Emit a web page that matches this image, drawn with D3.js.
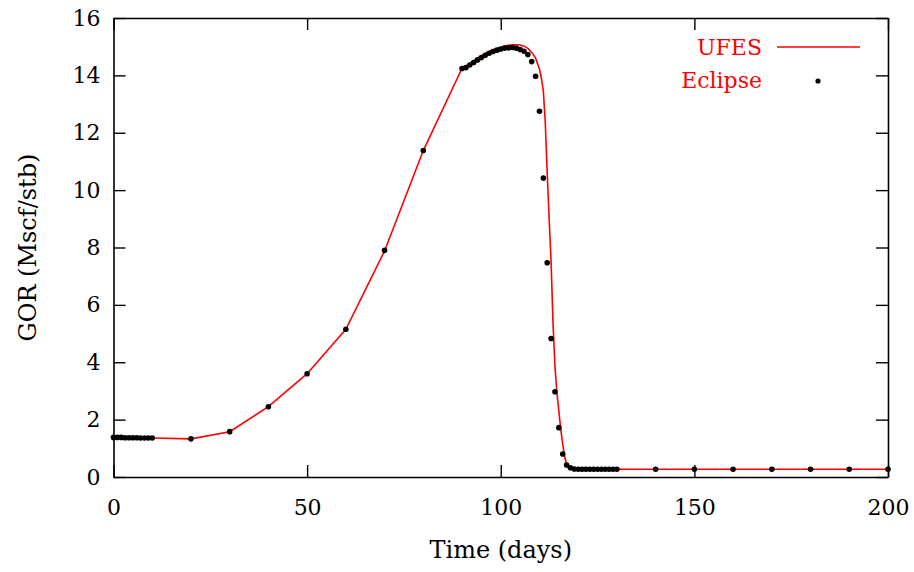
<!DOCTYPE html>
<html>
<head>
<meta charset="utf-8">
<script src="https://cdn.jsdelivr.net/npm/d3@7"></script>
<style>
  body { margin: 0; background: #fff; }
  svg text { font-family: "DejaVu Serif", "Liberation Serif", serif; }
</style>
</head>
<body>
<div id="chart"></div>
<script>
// UFES simulation (red line)
const ufesDays = [0, 10, 20, 30, 40, 50, 60, 70, 80, 90, 91, 92, 93, 94, 95, 96, 97, 98, 99, 100,
  101, 102, 103, 104, 105, 106, 107, 108, 109, 110, 110.5, 111, 111.5, 112, 112.5, 113, 113.5, 114,
  114.5, 115, 115.5, 116, 116.5, 117, 117.5, 118, 119, 120, 130, 140, 150, 160, 170, 180, 190, 200];
const ufesGor = [1.38, 1.36, 1.33, 1.58, 2.45, 3.6, 5.15, 7.88, 11.38, 14.25, 14.33, 14.42, 14.51, 14.6,
  14.68, 14.76, 14.83, 14.89, 14.94, 14.98, 15.02, 15.05, 15.07, 15.07, 15.06, 15.02, 14.94, 14.8,
  14.6, 14.22, 13.9, 13.45, 12.35, 10.6, 9.0, 7.5, 5.35, 3.85, 2.95, 2.3, 1.65, 1.15, 0.72, 0.45,
  0.32, 0.28, 0.27, 0.27, 0.27, 0.27, 0.27, 0.27, 0.27, 0.27, 0.27, 0.27];

// Eclipse reference (black dots)
const eclipseDays = [0, 1, 2, 3, 4, 5, 6, 7, 8, 9, 10, 20, 30, 40, 50, 60, 70, 80,
  90, 91, 92, 93, 94, 95, 96, 97, 98, 99, 100, 101, 102, 103, 104, 105, 106, 107, 108, 109, 110,
  111, 112, 113, 114, 115, 116, 117, 118, 119, 120, 121, 122, 123, 124, 125, 126, 127, 128, 129, 130,
  140, 150, 160, 170, 180, 190, 200];
const eclipseGor = [1.38, 1.38, 1.38, 1.37, 1.37, 1.37, 1.37, 1.36, 1.36, 1.36, 1.36, 1.33, 1.58, 2.45,
  3.6, 5.15, 7.9, 11.38,
  14.24, 14.27, 14.36, 14.45, 14.54, 14.62, 14.7, 14.77, 14.83, 14.88, 14.92, 14.95, 14.96, 14.97,
  14.95, 14.9, 14.84, 14.73, 14.48, 13.97, 12.75,
  10.42, 7.47, 4.83, 2.97, 1.72, 0.8, 0.42, 0.32, 0.28, 0.27, 0.27, 0.27, 0.27, 0.27, 0.27, 0.27,
  0.27, 0.27, 0.27, 0.27,
  0.27, 0.27, 0.27, 0.27, 0.27, 0.27, 0.27];

const xTicks = [0, 50, 100, 150, 200];
const yTicks = [0, 2, 4, 6, 8, 10, 12, 14, 16];

const margin = { top: 18, right: 26, bottom: 95, left: 113.5 };
const width = 914 - margin.left - margin.right;
const height = 572 - margin.top - margin.bottom;

const svg = d3.select("#chart")
  .append("svg")
    .attr("width", 914)
    .attr("height", 572)
  .append("g")
    .attr("transform", `translate(${margin.left}, ${margin.top})`);

const xScale = d3.scaleLinear().domain([0, 200]).range([0, width]);
const yScale = d3.scaleLinear().domain([0, 16]).range([height, 0]);

const tickLen = 12;

// inward ticks, mirrored on all four sides (gnuplot style)
const xAxisB = d3.axisBottom(xScale).tickValues(xTicks).tickSizeInner(-tickLen).tickSizeOuter(0).tickPadding(22);
const xAxisT = d3.axisTop(xScale).tickValues(xTicks).tickSizeInner(-tickLen).tickSizeOuter(0).tickFormat("");
const yAxisL = d3.axisLeft(yScale).tickValues(yTicks).tickSizeInner(-tickLen).tickSizeOuter(0).tickPadding(13);
const yAxisR = d3.axisRight(yScale).tickValues(yTicks).tickSizeInner(-tickLen).tickSizeOuter(0).tickFormat("");

svg.append("g").attr("transform", `translate(0, ${height})`).call(xAxisB);
svg.append("g").call(xAxisT);
svg.append("g").call(yAxisL);
svg.append("g").attr("transform", `translate(${width}, 0)`).call(yAxisR);

svg.selectAll(".domain").attr("stroke", "#000").attr("stroke-width", 1.6);
svg.selectAll(".tick line").attr("stroke", "#000").attr("stroke-width", 1.4);
svg.selectAll(".tick text")
  .attr("fill", "#000")
  .attr("font-family", null)
  .style("font-size", "22px");

// red line
const line = d3.line()
  .x((d, i) => xScale(ufesDays[i]))
  .y(d => yScale(d));

svg.append("path")
  .datum(ufesGor)
  .attr("fill", "none")
  .attr("stroke", "#ff0000")
  .attr("stroke-width", 1.6)
  .attr("d", line);

// black dots
svg.selectAll(".dot")
  .data(eclipseGor)
  .enter().append("circle")
  .attr("class", "dot")
  .attr("cx", (d, i) => xScale(eclipseDays[i]))
  .attr("cy", d => yScale(d))
  .attr("r", 2.8)
  .attr("fill", "#000");

// legend
const legend = svg.append("g");
legend.append("text")
  .attr("x", 762 - margin.left)
  .attr("y", 47 - margin.top)
  .attr("dy", "0.35em")
  .attr("text-anchor", "end")
  .attr("fill", "#ff0000")
  .style("font-size", "22px")
  .text("UFES");
legend.append("line")
  .attr("x1", 777 - margin.left)
  .attr("x2", 860 - margin.left)
  .attr("y1", 47 - margin.top)
  .attr("y2", 47 - margin.top)
  .attr("stroke", "#ff0000")
  .attr("stroke-width", 1.6);
legend.append("text")
  .attr("x", 762 - margin.left)
  .attr("y", 80 - margin.top)
  .attr("dy", "0.35em")
  .attr("text-anchor", "end")
  .attr("fill", "#ff0000")
  .style("font-size", "22px")
  .text("Eclipse");
legend.append("circle")
  .attr("cx", 818 - margin.left)
  .attr("cy", 81 - margin.top)
  .attr("r", 2.6)
  .attr("fill", "#000");

// axis titles
svg.append("text")
  .attr("x", width / 2)
  .attr("y", height + 73)
  .attr("dy", "0.35em")
  .attr("text-anchor", "middle")
  .style("font-size", "24px")
  .text("Time (days)");

svg.append("text")
  .attr("transform", "rotate(-90)")
  .attr("x", -height / 2)
  .attr("y", -margin.left + 28)
  .attr("dy", "0.35em")
  .attr("text-anchor", "middle")
  .style("font-size", "24px")
  .text("GOR (Mscf/stb)");
</script>
</body>
</html>
